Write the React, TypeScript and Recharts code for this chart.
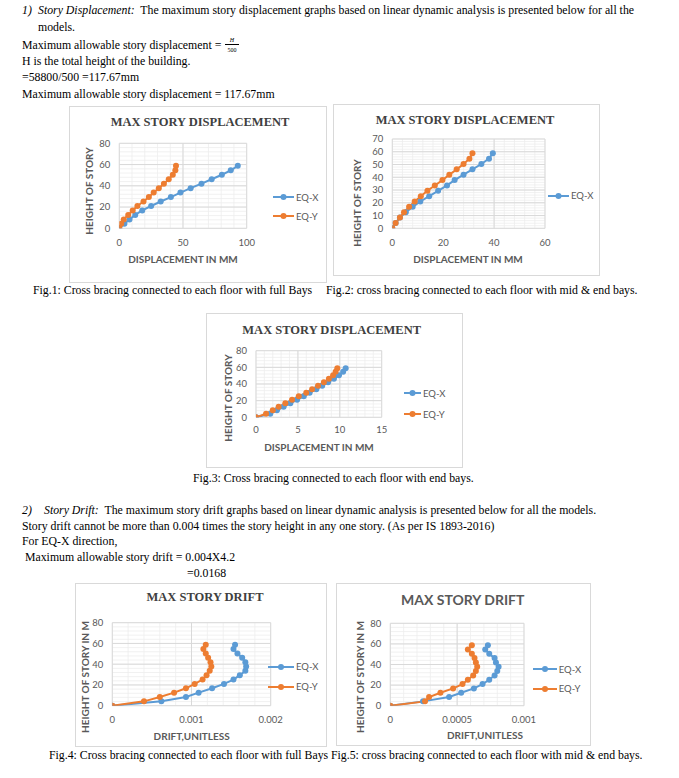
import { LineChart, Line, XAxis, YAxis, CartesianGrid } from 'recharts';

// story levels (m), 14 storeys x 4.2 m
const HEIGHTS = [0, 4.2, 8.4, 12.6, 16.8, 21, 25.2, 29.4, 33.6, 37.8, 42, 46.2, 50.4, 54.6, 58.8];

// max story displacement (mm)
const dispFullX = [0, 4, 8, 12.5, 18, 25, 32.5, 40.5, 48, 56, 64.5, 72.5, 80.5, 87.5, 93];
const dispFullY = [0, 1.5, 3.5, 7, 10.5, 14.2, 19, 23.2, 27, 31, 35, 38.8, 42, 44, 44.5];
const dispMidX = [0, 1.3, 3, 5.3, 8, 11, 14.5, 18, 21.5, 24.5, 28, 31.5, 35, 38, 39.5];
const dispMidY = [0, 1.3, 3, 4.6, 6.6, 8.8, 11.2, 13.8, 16.7, 19.7, 22.4, 25.3, 28, 30.3, 31.5];
const dispEndX = [0, 1.7, 2.5, 3.3, 4.1, 4.9, 5.7, 6.4, 7.2, 7.9, 8.6, 9.3, 9.9, 10.4, 10.7];
const dispEndY = [0, 1.2, 2, 2.7, 3.5, 4.3, 5.1, 6, 6.7, 7.4, 8.1, 8.7, 9.2, 9.5, 9.7];

// max story drift (unitless)
const driftFullX = [0, 0.00062, 0.00093, 0.00109, 0.00126, 0.00141, 0.00153, 0.00161, 0.00168, 0.00169, 0.00168, 0.00164, 0.00158, 0.00153, 0.00155];
const driftFullY = [0, 0.0004, 0.0006, 0.00078, 0.00093, 0.00104, 0.00114, 0.00119, 0.00123, 0.00125, 0.00124, 0.00121, 0.00118, 0.00115, 0.00118];
const driftMidX = [0, 0.000245, 0.00044, 0.00053, 0.000625, 0.00069, 0.00074, 0.00078, 0.0008, 0.00081, 0.00079, 0.00078, 0.00074, 0.00071, 0.00073];
const driftMidY = [0, 0.00026, 0.00029, 0.000375, 0.00047, 0.00054, 0.00058, 0.00062, 0.00064, 0.00065, 0.00064, 0.00063, 0.00061, 0.00058, 0.00061];

// axis ticks
const ticks80 = [0, 20, 40, 60, 80];
const ticks70 = [0, 10, 20, 30, 40, 50, 60, 70];
const dispFullTicks = [0, 50, 100];
const dispMidTicks = [0, 20, 40, 60];
const dispEndTicks = [0, 5, 10, 15];
const driftFullTicks = [0, 0.001, 0.002];
const driftMidTicks = [0, 0.0005, 0.001];

const BLUE = '#5B9BD5';
const ORANGE = '#ED7D31';
const GREY = '#595959';
const SANS = 'Lato, "Liberation Sans", sans-serif';
const SERIF = '"Liberation Serif", "Times New Roman", serif';
const BODY = 11.8;

const pts = (xs: number[]) => xs.map((d, i) => ({ d, h: HEIGHTS[i] }));
const steps = (max: number, step: number) => {
  const out: number[] = [];
  for (let i = 0; i * step <= max + step / 1000; i++) out.push(+(i * step).toPrecision(6));
  return out;
};

type Box = { left: number; top: number; width: number; height: number };
type ChartDef = {
  box: Box;
  plot: { l: number; t: number; r: number; b: number };
  xMax: number; xTicks: number[]; xMinor: number;
  yMax: number; yTicks: number[]; yMinor: number;
  xTickGap: number;
  series: { name: string; color: string; data: { d: number; h: number }[] }[];
  legend: { name: string; color: string; x: number; y: number; w: number }[];
  title: string; titleFont: string; titleSize: number; titleX: number; titleY: number;
  yTitle: string; yTitleX: number; yTitleY: number;
  xTitle: string; xTitleX: number; xTitleY: number;
};

function Txt({ x, y, size = BODY, children, style }: { x: number; y: number; size?: number; children: React.ReactNode; style?: React.CSSProperties }) {
  return (
    <div style={{ position: 'absolute', left: x, top: y - size * 0.6, fontSize: size, lineHeight: `${size * 1.2}px`, whiteSpace: 'pre', fontFamily: SERIF, color: '#000', ...style }}>
      {children}
    </div>
  );
}

function ExcelChart({ c }: { c: ChartDef }) {
  const { box, plot } = c;
  const yW = 30;
  const xH = 30;
  const margin = { top: plot.t, right: box.width - plot.r, left: plot.l - yW, bottom: box.height - plot.b - xH };
  return (
    <div style={{ position: 'absolute', ...box, background: '#fff' }}>
      <div style={{ position: 'absolute', inset: 0, border: '1px solid #D9D9D9', boxSizing: 'border-box' }} />
      <div style={{ position: 'absolute', left: 0, top: 0 }}>
        <LineChart width={box.width} height={box.height} margin={margin}>
          <CartesianGrid stroke="#EDEDED" strokeWidth={0.8} verticalValues={steps(c.xMax, c.xMinor)} horizontalValues={steps(c.yMax, c.yMinor)} />
          <CartesianGrid stroke="#D9D9D9" strokeWidth={1} verticalValues={c.xTicks} horizontalValues={c.yTicks} />
          <XAxis type="number" dataKey="d" domain={[0, c.xMax]} ticks={c.xTicks} interval={0} height={xH}
            axisLine={false} tickLine={false} tickSize={0} tickMargin={c.xTickGap}
            tick={{ fontSize: 9.5, fill: GREY, fontFamily: SANS }} allowDataOverflow />
          <YAxis type="number" dataKey="h" domain={[0, c.yMax]} ticks={c.yTicks} interval={0} width={yW}
            axisLine={false} tickLine={false} tickSize={0} tickMargin={9}
            tick={{ fontSize: 9.5, fill: GREY, fontFamily: SANS }} allowDataOverflow />
          {c.series.map((s) => (
            <Line key={s.name} name={s.name} data={s.data} dataKey="h" type="linear" stroke={s.color} strokeWidth={2}
              dot={{ r: 3, fill: s.color, stroke: s.color, strokeWidth: 0 }} isAnimationActive={false} />
          ))}
        </LineChart>
      </div>
      <div style={{ position: 'absolute', left: c.titleX, top: c.titleY - c.titleSize * 0.6, transform: 'translateX(-50%)', whiteSpace: 'nowrap',
        fontFamily: c.titleFont, fontWeight: 700, fontSize: c.titleSize, lineHeight: `${c.titleSize * 1.2}px`, color: c.titleFont === SERIF ? '#404040' : GREY }}>
        {c.title}
      </div>
      <div style={{ position: 'absolute', left: c.yTitleX, top: c.yTitleY, transform: 'translate(-50%, -50%) rotate(-90deg)', whiteSpace: 'nowrap',
        fontFamily: SANS, fontWeight: 700, fontSize: 10, lineHeight: '12px', color: GREY }}>
        {c.yTitle}
      </div>
      <div style={{ position: 'absolute', left: c.xTitleX, top: c.xTitleY - 6, transform: 'translateX(-50%)', whiteSpace: 'nowrap',
        fontFamily: SANS, fontWeight: 700, fontSize: 10, lineHeight: '12px', color: GREY }}>
        {c.xTitle}
      </div>
      {c.legend.map((l) => (
        <div key={l.name} style={{ position: 'absolute', left: l.x, top: l.y - 6, height: 12, display: 'flex', alignItems: 'center', whiteSpace: 'nowrap' }}>
          <svg width={l.w} height={8} style={{ display: 'block' }}>
            <line x1={0} y1={4} x2={l.w} y2={4} stroke={l.color} strokeWidth={2} />
            <circle cx={l.w / 2} cy={4} r={3} fill={l.color} />
          </svg>
          <span style={{ marginLeft: 2, fontFamily: SANS, fontSize: 9.5, color: GREY }}>{l.name}</span>
        </div>
      ))}
    </div>
  );
}

const charts: ChartDef[] = [
  {
    box: { left: 69, top: 106, width: 258, height: 177 },
    plot: { l: 50.3, t: 37.3, r: 177.7, b: 122.3 },
    xMax: 100, xTicks: dispFullTicks, xMinor: 10, yMax: 80, yTicks: ticks80, yMinor: 4, xTickGap: 11,
    series: [
      { name: 'EQ-X', color: BLUE, data: pts(dispFullX) },
      { name: 'EQ-Y', color: ORANGE, data: pts(dispFullY) },
    ],
    legend: [
      { name: 'EQ-X', color: BLUE, x: 204, y: 91, w: 21 },
      { name: 'EQ-Y', color: ORANGE, x: 204, y: 110, w: 21 },
    ],
    title: 'MAX STORY DISPLACEMENT', titleFont: SERIF, titleSize: 12.5, titleX: 131, titleY: 16.7,
    yTitle: 'HEIGHT OF STORY', yTitleX: 20, yTitleY: 84.5,
    xTitle: 'DISPLACEMENT IN MM', xTitleX: 114, xTitleY: 153,
  },
  {
    box: { left: 333, top: 104, width: 267, height: 172 },
    plot: { l: 59.3, t: 35, r: 212, b: 124.3 },
    xMax: 60, xTicks: dispMidTicks, xMinor: 4, yMax: 70, yTicks: ticks70, yMinor: 2, xTickGap: 11,
    series: [
      { name: 'EQ-X', color: BLUE, data: pts(dispMidX) },
      { name: 'EQ-Y', color: ORANGE, data: pts(dispMidY) },
    ],
    legend: [{ name: 'EQ-X', color: BLUE, x: 215, y: 91.7, w: 21 }],
    title: 'MAX STORY DISPLACEMENT', titleFont: SERIF, titleSize: 12.5, titleX: 132, titleY: 16.7,
    yTitle: 'HEIGHT OF STORY', yTitleX: 23.7, yTitleY: 98.5,
    xTitle: 'DISPLACEMENT IN MM', xTitleX: 135, xTitleY: 155,
  },
  {
    box: { left: 206, top: 313, width: 257, height: 155 },
    plot: { l: 50, t: 37.7, r: 175.7, b: 104.3 },
    xMax: 15, xTicks: dispEndTicks, xMinor: 1, yMax: 80, yTicks: ticks80, yMinor: 4, xTickGap: 8.5,
    series: [
      { name: 'EQ-X', color: BLUE, data: pts(dispEndX) },
      { name: 'EQ-Y', color: ORANGE, data: pts(dispEndY) },
    ],
    legend: [
      { name: 'EQ-X', color: BLUE, x: 198, y: 80.3, w: 17 },
      { name: 'EQ-Y', color: ORANGE, x: 198, y: 101, w: 17 },
    ],
    title: 'MAX STORY DISPLACEMENT', titleFont: SERIF, titleSize: 12.5, titleX: 125.7, titleY: 17,
    yTitle: 'HEIGHT OF STORY', yTitleX: 22, yTitleY: 85,
    xTitle: 'DISPLACEMENT IN MM', xTitleX: 113, xTitleY: 133.7,
  },
  {
    box: { left: 75, top: 583, width: 252, height: 164 },
    plot: { l: 37.3, t: 39.7, r: 195.7, b: 122.7 },
    xMax: 0.002, xTicks: driftFullTicks, xMinor: 0.0002, yMax: 80, yTicks: ticks80, yMinor: 4, xTickGap: 11,
    series: [
      { name: 'EQ-X', color: BLUE, data: pts(driftFullX) },
      { name: 'EQ-Y', color: ORANGE, data: pts(driftFullY) },
    ],
    legend: [
      { name: 'EQ-X', color: BLUE, x: 193, y: 83.7, w: 26 },
      { name: 'EQ-Y', color: ORANGE, x: 193, y: 103.7, w: 26 },
    ],
    title: 'MAX STORY DRIFT', titleFont: SERIF, titleSize: 12.5, titleX: 130, titleY: 14.3,
    yTitle: 'HEIGHT OF STORY IN M', yTitleX: 10, yTitleY: 93.5,
    xTitle: 'DRIFT,UNITLESS', xTitleX: 116.7, xTitleY: 153,
  },
  {
    box: { left: 336, top: 583, width: 255, height: 163 },
    plot: { l: 54.3, t: 40.3, r: 188, b: 122.7 },
    xMax: 0.001, xTicks: driftMidTicks, xMinor: 0.0001, yMax: 80, yTicks: ticks80, yMinor: 4, xTickGap: 11,
    series: [
      { name: 'EQ-X', color: BLUE, data: pts(driftMidX) },
      { name: 'EQ-Y', color: ORANGE, data: pts(driftMidY) },
    ],
    legend: [
      { name: 'EQ-X', color: BLUE, x: 196.7, y: 86.3, w: 24 },
      { name: 'EQ-Y', color: ORANGE, x: 196.7, y: 105.7, w: 24 },
    ],
    title: 'MAX STORY DRIFT', titleFont: SANS, titleSize: 14, titleX: 126.7, titleY: 17.7,
    yTitle: 'HEIGHT OF STORY IN M', yTitleX: 24, yTitleY: 93.7,
    xTitle: 'DRIFT,UNITLESS', xTitleX: 149, xTitleY: 152,
  },
];

export default function App() {
  return (
    <div style={{ position: 'absolute', left: 0, top: 0, width: 679, height: 778, background: '#fff', overflow: 'hidden', fontFamily: SERIF }}>
      <Txt x={22} y={10}><i>1)</i></Txt>
      <Txt x={38} y={10}><i>Story Displacement:</i>{'  The maximum story displacement graphs based on linear dynamic analysis is presented below for all the'}</Txt>
      <Txt x={38} y={27}>models.</Txt>
      <Txt x={22} y={45}>{'Maximum allowable story displacement = '}</Txt>
      <div style={{ position: 'absolute', left: 225, top: 37, width: 14, textAlign: 'center', fontFamily: SERIF, fontSize: 6, lineHeight: '7px' }}>
        <div style={{ fontStyle: 'italic', borderBottom: '0.8px solid #000' }}>H</div>
        <div style={{ marginTop: 2 }}>500</div>
      </div>
      <Txt x={22} y={61}>H is the total height of the building.</Txt>
      <Txt x={22} y={77}>=58800/500 =117.67mm</Txt>
      <Txt x={22} y={94}>Maximum allowable story displacement = 117.67mm</Txt>

      {charts.slice(0, 3).map((c, i) => <ExcelChart key={i} c={c} />)}

      <Txt x={33} y={290}>Fig.1: Cross bracing connected to each floor with full Bays</Txt>
      <Txt x={326} y={290}>{'Fig.2: cross bracing connected to each floor with mid & end bays.'}</Txt>
      <Txt x={193} y={478}>Fig.3: Cross bracing connected to each floor with end bays.</Txt>

      <Txt x={22} y={510}><i>2)</i></Txt>
      <Txt x={44} y={510}><i>Story Drift:</i>{'  The maximum story drift graphs based on linear dynamic analysis is presented below for all the models.'}</Txt>
      <Txt x={22} y={526}>Story drift cannot be more than 0.004 times the story height in any one story. (As per IS 1893-2016)</Txt>
      <Txt x={22} y={541}>For EQ-X direction,</Txt>
      <Txt x={25} y={557}>Maximum allowable story drift = 0.004X4.2</Txt>
      <Txt x={187} y={573}>=0.0168</Txt>

      {charts.slice(3).map((c, i) => <ExcelChart key={i + 3} c={c} />)}

      <Txt x={49} y={755}>Fig.4: Cross bracing connected to each floor with full Bays</Txt>
      <Txt x={331} y={755}>{'Fig.5: cross bracing connected to each floor with mid & end bays.'}</Txt>
    </div>
  );
}
